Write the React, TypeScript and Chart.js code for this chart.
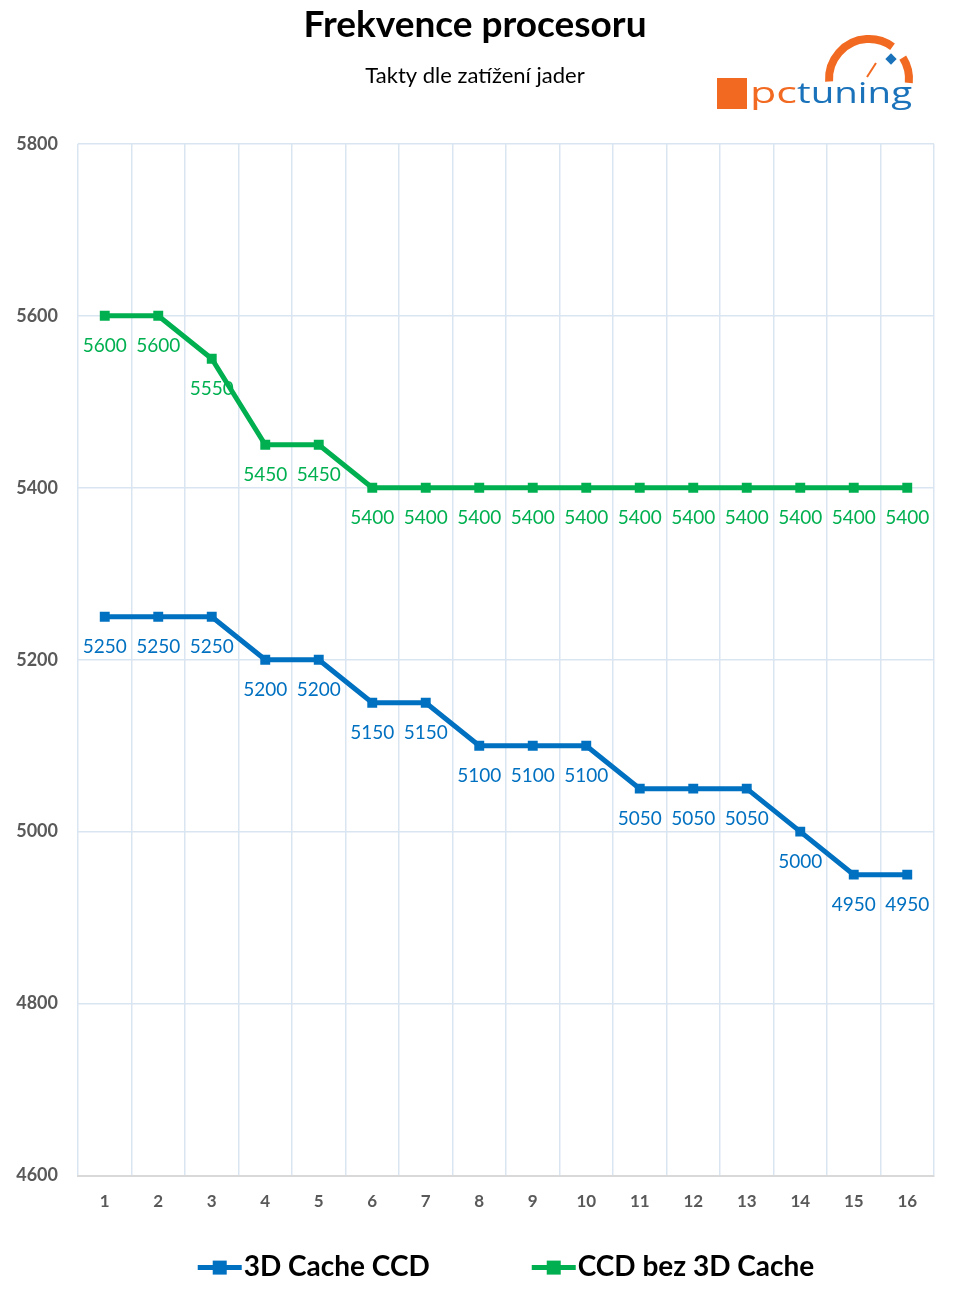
import React, { useEffect, useRef } from "react";
import { Chart, registerables } from "chart.js";

Chart.register(...registerables);

const categories = ["1", "2", "3", "4", "5", "6", "7", "8", "9", "10", "11", "12", "13", "14", "15", "16"];
const cache3D = [5250, 5250, 5250, 5200, 5200, 5150, 5150, 5100, 5100, 5100, 5050, 5050, 5050, 5000, 4950, 4950];
const noCache = [5600, 5600, 5550, 5450, 5450, 5400, 5400, 5400, 5400, 5400, 5400, 5400, 5400, 5400, 5400, 5400];
const yTicks = [4600, 4800, 5000, 5200, 5400, 5600, 5800];
const seriesNames = ["3D Cache CCD", "CCD bez 3D Cache"];
const seriesColors = ["#0070C0", "#00B050"];
const titleText = "Frekvence procesoru";
const subtitleText = "Takty dle zatížení jader";

const FONT = "Lato, 'Open Sans', sans-serif";

const dataLabelPlugin = {
  id: "dataLabelsBelow",
  beforeDatasetsDraw(chart: any) {
    const ctx = chart.ctx;
    chart.data.datasets.forEach((ds: any, i: number) => {
      const meta = chart.getDatasetMeta(i);
      ctx.save();
      ctx.font = `19px ${FONT}`;
      ctx.fillStyle = ds.borderColor;
      ctx.textAlign = "center";
      ctx.textBaseline = "middle";
      meta.data.forEach((pt: any, j: number) => {
        ctx.fillText(String(ds.data[j]), pt.x, pt.y + 30);
      });
      ctx.restore();
    });
  },
};

const legendPlugin = {
  id: "customLegend",
  afterDraw(chart: any) {
    const ctx = chart.ctx;
    const area = chart.chartArea;
    ctx.save();
    ctx.font = `bold 28px ${FONT}`;
    const markerW = 44;
    const items = chart.data.datasets.map((ds: any) => ({
      text: ds.label,
      color: ds.borderColor,
      w: markerW + 2 + ctx.measureText(ds.label).width,
    }));
    const gap = 102;
    const total = items.reduce((s: number, it: any) => s + it.w, 0) + gap * (items.length - 1);
    let x = (area.left + area.right) / 2 - total / 2;
    const y = area.bottom + 91;
    items.forEach((it: any) => {
      ctx.strokeStyle = it.color;
      ctx.lineWidth = 5;
      ctx.beginPath();
      ctx.moveTo(x, y + 1);
      ctx.lineTo(x + markerW, y + 1);
      ctx.stroke();
      ctx.fillStyle = it.color;
      ctx.fillRect(x + markerW / 2 - 7, y + 1 - 7, 14, 14);
      ctx.fillStyle = "#000000";
      ctx.textAlign = "left";
      ctx.textBaseline = "middle";
      ctx.fillText(it.text, x + markerW + 2, y);
      x += it.w + gap;
    });
    ctx.restore();
  },
};

const logoPlugin = {
  id: "logo",
  afterDraw(chart: any) {
    const ctx = chart.ctx;
    const orange = "#F26A21";
    const blue = "#1A73BA";
    ctx.save();
    ctx.fillStyle = orange;
    ctx.fillRect(717, 78, 30, 31);
    ctx.strokeStyle = orange;
    ctx.lineWidth = 8;
    ctx.lineCap = "butt";
    ctx.beginPath();
    ctx.arc(869, 79, 40, Math.PI * 0.98, Math.PI * 1.7);
    ctx.stroke();
    ctx.beginPath();
    ctx.arc(869, 79, 40, Math.PI * 1.82, Math.PI * 2.03);
    ctx.stroke();
    ctx.save();
    ctx.translate(891, 59);
    ctx.rotate(Math.PI / 4);
    ctx.fillStyle = blue;
    ctx.fillRect(-4, -4, 8, 8);
    ctx.restore();
    ctx.lineWidth = 2;
    ctx.beginPath();
    ctx.moveTo(867, 77);
    ctx.lineTo(876, 63);
    ctx.stroke();
    ctx.font = "30px 'Open Sans', sans-serif";
    ctx.textBaseline = "alphabetic";
    ctx.textAlign = "left";
    const drawFit = (t: string, x0: number, w: number, color: string) => {
      const m = ctx.measureText(t).width;
      ctx.save();
      ctx.translate(x0, 103);
      ctx.scale(w / m, 1);
      ctx.fillStyle = color;
      ctx.fillText(t, 0, 0);
      ctx.restore();
    };
    drawFit("pc", 750, 47, orange);
    drawFit("tuning", 797, 115, blue);
    ctx.restore();
  },
};

export default function App() {
  const canvasRef = useRef<HTMLCanvasElement | null>(null);

  useEffect(() => {
    document.body.style.margin = "0";
    const canvas = canvasRef.current;
    if (!canvas) return;
    const chart = new Chart(canvas, {
      type: "line",
      data: {
        labels: categories,
        datasets: [
          {
            label: seriesNames[0],
            data: cache3D,
            borderColor: seriesColors[0],
            backgroundColor: seriesColors[0],
            borderWidth: 5,
            pointStyle: "rect",
            pointRadius: 7,
            pointBorderWidth: 0,
            tension: 0,
          },
          {
            label: seriesNames[1],
            data: noCache,
            borderColor: seriesColors[1],
            backgroundColor: seriesColors[1],
            borderWidth: 5,
            pointStyle: "rect",
            pointRadius: 7,
            pointBorderWidth: 0,
            tension: 0,
          },
        ],
      },
      options: {
        animation: false,
        responsive: true,
        maintainAspectRatio: false,
        layout: { padding: { top: 0, left: 16, right: 19, bottom: 75 } },
        plugins: {
          legend: { display: false },
          tooltip: { enabled: false },
          title: {
            display: true,
            text: titleText,
            color: "#000000",
            font: { family: FONT, size: 37, weight: "bold" },
            padding: { top: 3, bottom: 8 },
          },
          subtitle: {
            display: true,
            text: subtitleText,
            color: "#000000",
            font: { family: FONT, size: 22, weight: "normal" },
            padding: { top: 7, bottom: 55 },
          },
        },
        scales: {
          x: {
            type: "category",
            offset: true,
            grid: {
              offset: true,
              color: "#DAE5F2",
              lineWidth: 1.5,
              drawTicks: false,
            },
            border: { display: true, color: "#D9D9D9", width: 2 },
            ticks: {
              color: "#595959",
              font: { family: FONT, size: 17, weight: "bold" },
              padding: 16,
              maxRotation: 0,
              autoSkip: false,
            },
          },
          y: {
            min: 4600,
            max: 5800,
            afterBuildTicks: (scale: any) => {
              scale.ticks = yTicks.map((v) => ({ value: v }));
            },
            afterFit: (scale: any) => {
              scale.width = 62;
            },
            grid: {
              color: "#DAE5F2",
              lineWidth: 1.5,
              drawTicks: false,
            },
            border: { display: false },
            ticks: {
              color: "#595959",
              font: { family: FONT, size: 18, weight: "bold" },
              padding: 20,
              callback: (v: any) => String(v),
            },
          },
        },
      },
      plugins: [dataLabelPlugin, legendPlugin, logoPlugin],
    });
    return () => chart.destroy();
  }, []);

  return (
    <div style={{ width: 953, height: 1303, position: "relative" }}>
      <canvas ref={canvasRef} />
    </div>
  );
}
